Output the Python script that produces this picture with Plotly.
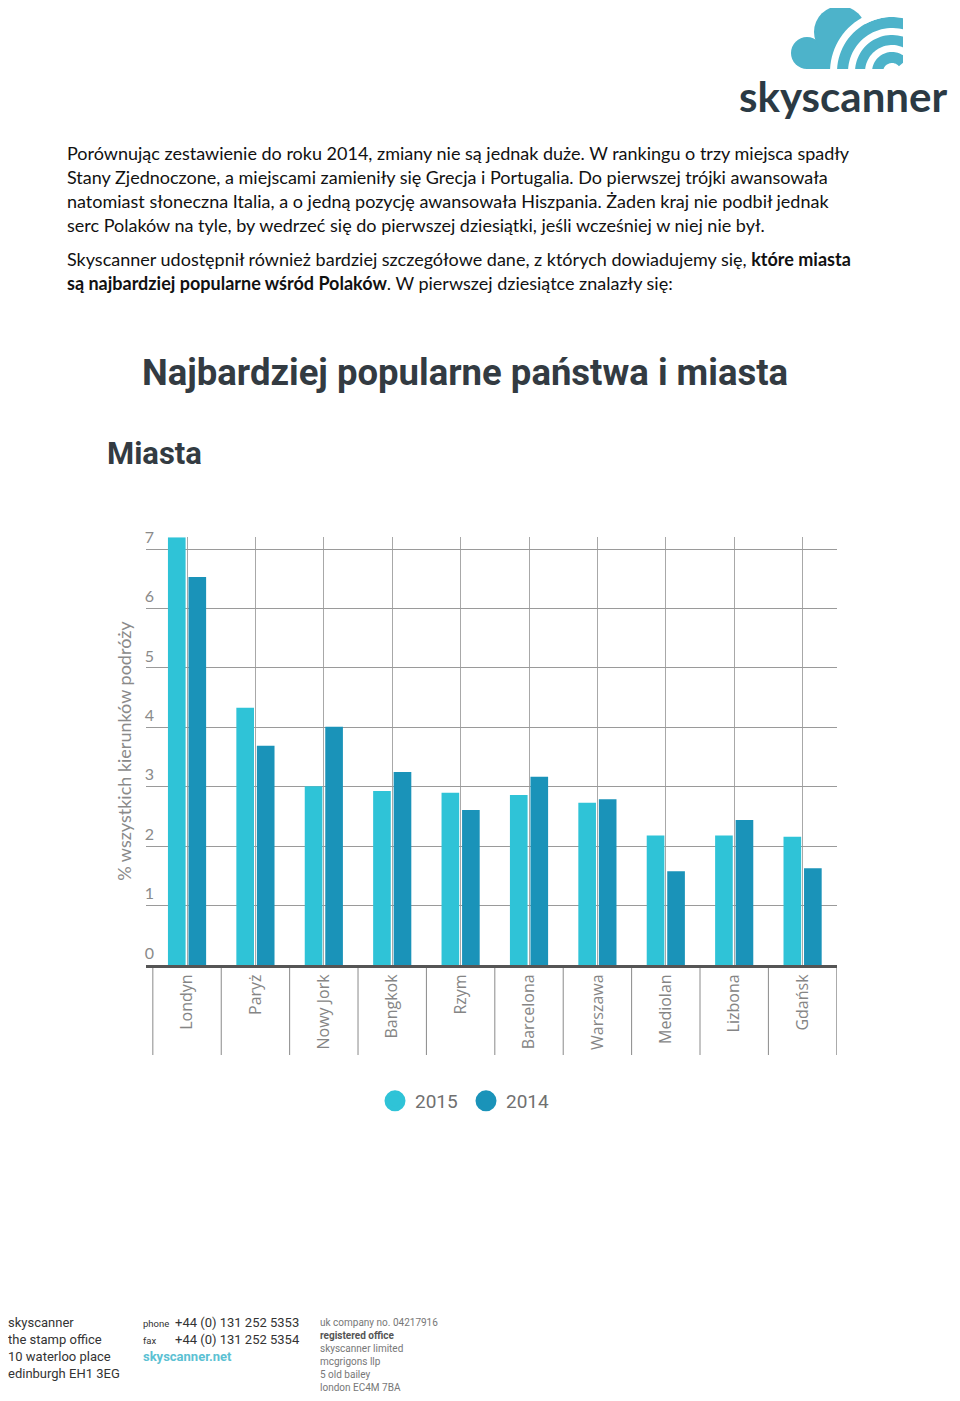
import math
import plotly.graph_objects as go

# ---------------- data ----------------
cities = ["Londyn", "Paryż", "Nowy Jork", "Bangkok", "Rzym",
          "Barcelona", "Warszawa", "Mediolan", "Lizbona", "Gdańsk"]
share_2015 = [7.2, 4.33, 3.01, 2.93, 2.90, 2.86, 2.73, 2.18, 2.18, 2.16]
share_2014 = [6.53, 3.69, 4.01, 3.25, 2.61, 3.17, 2.79, 1.58, 2.44, 1.63]
y_ticks = [0, 1, 2, 3, 4, 5, 6, 7]

C2015 = "#2fc3d7"
C2014 = "#1a93b9"
# page is drawn with the browser's 8px body margin, so the figure is 952x1393
OX, OY = 8, 8
W, H = 952, 1393


def px(x):
    return (x - OX) / W


def py(y):
    return 1 - (y - OY) / H


fig = go.Figure()
fig.add_trace(go.Bar(x=cities, y=share_2015, name="2015", marker=dict(color=C2015, line=dict(width=0)),
                     showlegend=False))
fig.add_trace(go.Bar(x=cities, y=share_2014, name="2014", marker=dict(color=C2014, line=dict(width=0)),
                     showlegend=False))
# legend entries drawn as circles
for nm, col in (("2015", C2015), ("2014", C2014)):
    fig.add_trace(go.Scatter(x=[None], y=[None], mode="markers", name=nm,
                             marker=dict(symbol="circle", size=16, color=col,
                                         line=dict(color=col, width=5))))

shapes = []
# category separators below the axis
for i in range(len(cities) + 1):
    shapes.append(dict(type="line", xref="x", yref="paper", x0=i - 0.5, x1=i - 0.5,
                       y0=py(966), y1=py(1055), line=dict(color="#8a8a8a", width=1), layer="below"))


# --- skyscanner logo (decorative) ---
def arc_pts(cx, cy, r, a0, a1, n=48):
    pts = []
    for k in range(n + 1):
        a = math.radians(a0 + (a1 - a0) * k / n)
        pts.append((cx + r * math.cos(a), cy - r * math.sin(a)))
    return pts


def path_from(pts):
    s = "M %f,%f " % (px(pts[0][0]), py(pts[0][1]))
    s += " ".join("L %f,%f" % (px(x), py(y)) for x, y in pts[1:])
    return s + " Z"


def pshape(pts, color):
    shapes.append(dict(type="path", xref="paper", yref="paper", path=path_from(pts),
                       fillcolor=color, line=dict(width=0)))


def pcircle(x0, y0, x1, y1, color):
    shapes.append(dict(type="circle", xref="paper", yref="paper", x0=px(x0), x1=px(x1),
                       y0=py(y1), y1=py(y0), fillcolor=color, line=dict(width=0)))


def prect(x0, y0, x1, y1, color):
    shapes.append(dict(type="rect", xref="paper", yref="paper", x0=px(x0), x1=px(x1),
                       y0=py(y1), y1=py(y0), fillcolor=color, line=dict(width=0)))


LOGO = "#4db3ca"
cx, cy = 892, 72
pcircle(791, 37, 823, 69, LOGO)
pcircle(814, 6, 866, 58, LOGO)
prect(806, 50, 840, 69, LOGO)
pshape([(cx, cy)] + arc_pts(cx, cy, 55, 182, 40), LOGO)
for r0, r1 in ((55, 62), (37, 44), (20, 27)):
    pshape(arc_pts(cx, cy, r1, 185, 0) + arc_pts(cx, cy, r0, 0, 185), "white")
pshape([(cx, cy)] + arc_pts(cx, cy, 9, 185, 0), "white")
prect(903, 0, 959, 75, "white")
prect(780, 69, 959, 78, "white")

annotations = []


def txt(x, y, text, size, color="#000000", family="Lato", xanchor="left"):
    xx = x - 2 if xanchor == "left" else x
    annotations.append(dict(xref="paper", yref="paper", x=px(xx), y=py(y), text=text, showarrow=False,
                            xanchor=xanchor, yanchor="middle",
                            font=dict(size=size, color=color, family=family)))


txt(739, 96, "<b>skyscanner</b>", 42, "#2b3a44", "Lato")

body = [
    (153, "Porównując zestawienie do roku 2014, zmiany nie są jednak duże. W rankingu o trzy miejsca spadły"),
    (177, "Stany Zjednoczone, a miejscami zamieniły się Grecja i Portugalia. Do pierwszej trójki awansowała"),
    (201, "natomiast słoneczna Italia, a o jedną pozycję awansowała Hiszpania. Żaden kraj nie podbił jednak"),
    (225, "serc Polaków na tyle, by wedrzeć się do pierwszej dziesiątki, jeśli wcześniej w niej nie był."),
    (259, "Skyscanner udostępnił również bardziej szczegółowe dane, z których dowiadujemy się, <b>które miasta</b>"),
    (283, "<b>są najbardziej popularne wśród Polaków</b>. W pierwszej dziesiątce znalazły się:"),
]
for yy, t in body:
    txt(67, yy, t, 18, "#111111", "Lato")

txt(142, 372, "<b>Najbardziej popularne państwa i miasta</b>", 36.5, "#333b42", "Roboto")
txt(107, 453, "<b>Miasta</b>", 31, "#333b42", "Roboto")

# footer
FF = "Liberation Sans Narrow, Roboto, sans-serif"
for i, t in enumerate(["skyscanner", "the stamp office", "10 waterloo place", "edinburgh EH1 3EG"]):
    txt(8, 1322 + 17 * i, t, 13, "#333333", FF)
txt(143, 1323, "phone", 9.5, "#333333", FF)
txt(143, 1340, "fax", 9.5, "#333333", FF)
txt(175, 1322, "+44 (0) 131 252 5353", 13, "#333333", FF)
txt(175, 1339, "+44 (0) 131 252 5354", 13, "#333333", FF)
txt(143, 1356, "<b>skyscanner.net</b>", 13, "#5bc1d3", FF)
right = ["uk company no. 04217916", "<b>registered office</b>", "skyscanner limited",
         "mcgrigons llp", "5 old bailey", "london EC4M 7BA"]
for i, t in enumerate(right):
    txt(320, 1322 + 13 * i, t, 10, "#777777" if i != 1 else "#555555", FF)

fig.update_layout(
    width=W, height=H, autosize=False,
    margin=dict(l=0, r=0, t=0, b=0, autoexpand=False),
    paper_bgcolor="white", plot_bgcolor="white",
    barmode="group", bargap=0.4, bargroupgap=0.14,
    shapes=shapes, annotations=annotations,
    font=dict(family="Lato", color="#888888"),
    legend=dict(orientation="h", x=px(466), xanchor="center", y=py(1101), yanchor="middle",
                font=dict(size=19, color="#707070", family="Roboto"),
                itemwidth=30, entrywidth=46, bgcolor="rgba(0,0,0,0)"),
    xaxis=dict(domain=[px(146), px(837)], range=[-0.6, 9.503], type="category",
               showgrid=True, gridcolor="#a8a8a8", gridwidth=1,
               showline=True, linecolor="#555555", linewidth=3,
               tickangle=-90, tickfont=dict(size=16, color="#858585", family="Open Sans"),
               ticks="", zeroline=False, fixedrange=True, automargin=False),
    yaxis=dict(domain=[py(965), py(537.3)], range=[0, 7.2], tickvals=y_ticks,
               showgrid=True, gridcolor="#9a9a9a", gridwidth=1, zeroline=False,
               showline=False, ticks="", ticklabelposition="outside",
               ticklabelstandoff=-9, ticklabelshift=-12,
               tickfont=dict(size=16, color="#8a8a8a", family="Lato"),
               title=dict(text="% wszystkich kierunków podróży", standoff=8,
                          font=dict(size=18, color="#8a8a8a", family="Lato")),
               fixedrange=True, automargin=False),
)

fig.write_html("out.html")
